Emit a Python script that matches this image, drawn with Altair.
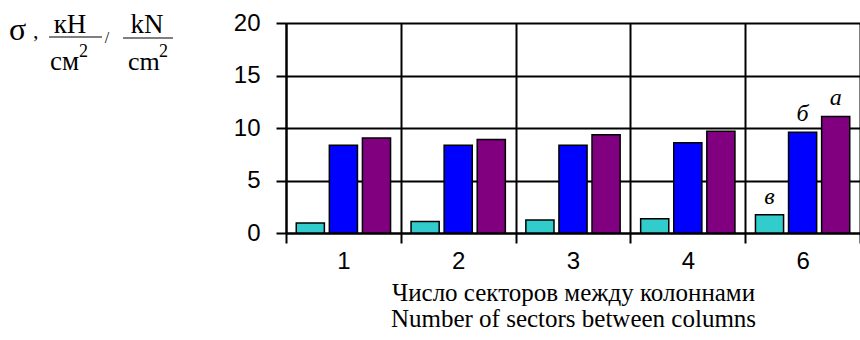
import altair as alt
import pandas as pd

# Number of sectors between columns (category axis)
groups = ["1", "2", "3", "4", "6"]
# Series names, drawn as labels above the last group
series = ["в", "б", "а"]
colors = ["#33CCCC", "#0000FF", "#800080"]

# Stress values, kN/cm²
values_v = [0.95, 1.1, 1.25, 1.35, 1.75]
values_b = [8.35, 8.35, 8.35, 8.6, 9.6]
values_a = [9.05, 8.9, 9.35, 9.7, 11.1]

rows = []
for s, vals in zip(series, [values_v, values_b, values_a]):
    for g, v in zip(groups, vals):
        rows.append({"group": g, "series": s, "value": v})
df = pd.DataFrame(rows)
last = df[df["group"] == groups[-1]]

W, H = 574, 210

x_enc = alt.X(
    "group:N",
    sort=groups,
    scale=alt.Scale(paddingInner=0, paddingOuter=0),
    axis=alt.Axis(
        tickBand="extent",
        grid=True,
        tickSize=10,
        labelAngle=0,
        labelFont="Liberation Sans",
        labelFontSize=24,
        labelPadding=6,
        title=["Число секторов между колоннами", "Number of sectors between columns"],
        titleFont="Liberation Serif",
        titleFontSize=25,
        titleFontWeight="normal",
        titleLineHeight=26,
        titlePadding=7,
    ),
)
xoff_enc = alt.XOffset(
    "series:N", sort=series, scale=alt.Scale(paddingInner=0.15, paddingOuter=0.31)
)
y_enc = alt.Y(
    "value:Q",
    scale=alt.Scale(domain=[0, 20]),
    axis=alt.Axis(
        values=[0, 5, 10, 15, 20],
        grid=True,
        tickSize=10,
        labelFont="Liberation Sans",
        labelFontSize=24,
        labelPadding=16,
        title=None,
    ),
)

bars = alt.Chart(df).mark_bar(stroke="black", strokeWidth=1.5).encode(
    x=x_enc,
    xOffset=xoff_enc,
    y=y_enc,
    color=alt.Color("series:N", scale=alt.Scale(domain=series, range=colors), legend=None),
)

series_labels = alt.Chart(last).mark_text(
    font="Liberation Serif", fontStyle="italic", fontSize=24,
    baseline="alphabetic", dy=-11, color="black",
).encode(x=x_enc, xOffset=xoff_enc, y=y_enc, text="series:N")

one = pd.DataFrame({"k": [0]})


def piece(text, x, y, size, align="left"):
    return alt.Chart(one).mark_text(
        text=text, font="Liberation Serif", fontSize=size, align=align,
        baseline="alphabetic", color="black",
    ).encode(x=alt.value(x), y=alt.value(y))


def bar_line(x1, x2, y):
    return alt.Chart(one).mark_rule(color="black", strokeWidth=1.2).encode(
        x=alt.value(x1), x2=alt.value(x2), y=alt.value(y)
    )


# Unit label of the value axis: σ, кН/см² / kN/cm²
unit_label = [
    piece("σ", -277, 17, 32),
    piece(",", -253, 15, 22),
    piece("кН", -216, 10, 27, "center"),
    bar_line(-237, -184, 14),
    piece("см", -236, 47, 27),
    piece("2", -207, 34, 18),
    piece("/", -179, 20, 16, "center"),
    piece("kN", -139, 10, 27, "center"),
    bar_line(-163, -113, 15),
    piece("cm", -158, 47, 26),
    piece("2", -127, 34, 18),
]

chart = alt.layer(bars, series_labels, *unit_label).properties(
    width=W,
    height=H,
    padding={"left": 286, "top": 23, "right": 0, "bottom": 107},
    autosize=alt.AutoSizeParams(type="none"),
).configure_axis(
    domainColor="black",
    domainWidth=2,
    tickColor="black",
    tickWidth=2,
    gridColor="black",
    gridWidth=2,
    gridOpacity=1,
    labelColor="black",
    titleColor="black",
).configure_view(strokeWidth=0)

chart.save("out.html", embed_options={"renderer": "svg", "actions": False})
